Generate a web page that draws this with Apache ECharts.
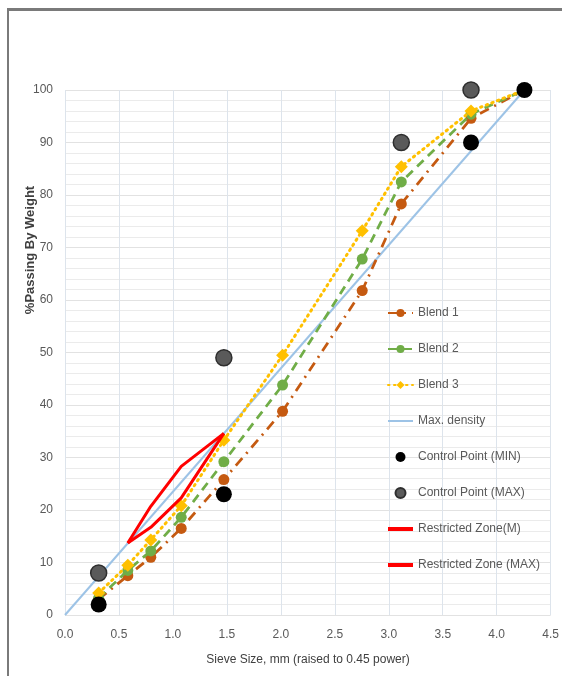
<!DOCTYPE html>
<html>
<head>
<meta charset="utf-8">
<style>
  html, body { margin: 0; padding: 0; background: #ffffff; }
  #chart { width: 562px; height: 676px; }
</style>
<script src="https://cdn.jsdelivr.net/npm/echarts@6/dist/echarts.min.js"></script>
</head>
<body>
<div id="chart"></div>
<script>
// Sieve sizes (mm) raised to the 0.45 power
const sieveX = [0.312, 0.582, 0.795, 1.077, 1.472, 2.016, 2.754, 3.116, 3.762, 4.257];

// Percent passing for each trial blend
const blend1 = [3.0, 7.5, 11.0, 16.5, 25.8, 38.8, 61.8, 78.3, 94.6, 100];
const blend2 = [3.2, 8.5, 12.2, 18.6, 29.2, 43.8, 67.8, 82.5, 95.4, 100];
const blend3 = [4.2, 9.5, 14.3, 20.8, 33.3, 49.5, 73.2, 85.4, 96.0, 100];

// Maximum density line
const maxDensityX = [0, 4.257];
const maxDensityY = [0, 100];

// Control points
const ctrlMinX = [0.312, 1.472, 3.762, 4.257];
const ctrlMinY = [2, 23, 90, 100];
const ctrlMaxX = [0.312, 1.472, 3.116, 3.762];
const ctrlMaxY = [8, 49, 90, 100];

// Restricted zone boundaries
const zoneX = [0.582, 0.795, 1.077, 1.472];
const zoneLowY = [13.7, 16.7, 22.3, 34.6];
const zoneHighY = [13.7, 20.7, 28.3, 34.6];

// Axis ticks
const xTicks = { min: 0, max: 4.5, step: 0.5 };
const yTicks = { min: 0, max: 100, step: 10 };

const pairs = (xs, ys) => xs.map((x, i) => [x, ys[i]]);

const FONT = "'Liberation Sans', Arial, sans-serif";
const TEXT = '#595959';

// legend glyphs: plain bars for the line-only series
const BAR_THIN = 'path://M0,0h25v2h-25z';
const BAR_THICK = 'path://M0,0h25v4h-25z';

const chart = echarts.init(document.getElementById('chart'), null, { renderer: 'canvas' });

chart.setOption({
  animation: false,
  backgroundColor: '#ffffff',
  textStyle: { fontFamily: FONT },
  grid: { left: 65, right: 10, top: 90, bottom: 61, containLabel: false },
  xAxis: {
    type: 'value',
    min: xTicks.min, max: xTicks.max, interval: xTicks.step,
    axisLine: { show: false },
    axisTick: { show: false },
    axisLabel: { color: TEXT, fontSize: 12, margin: 14, formatter: v => v.toFixed(1) },
    splitLine: { show: true, lineStyle: { color: '#dde4ec', width: 1 } }
  },
  yAxis: {
    type: 'value',
    min: yTicks.min, max: yTicks.max, interval: yTicks.step,
    axisLine: { show: false },
    axisTick: { show: false },
    axisLabel: { color: TEXT, fontSize: 12, margin: 12 },
    splitLine: { show: true, lineStyle: { color: '#e2e2e2', width: 1 } },
    minorTick: { show: false, splitNumber: 5 },
    minorSplitLine: { show: true, lineStyle: { color: '#ebebeb', width: 1 } }
  },
  legend: {
    orient: 'vertical',
    left: 382, top: 302,
    itemWidth: 25, itemHeight: 10, itemGap: 24,
    symbolKeepAspect: true,
    textStyle: { color: TEXT, fontSize: 12, fontFamily: FONT },
    data: [
      'Blend 1', 'Blend 2', 'Blend 3',
      { name: 'Max. density', icon: BAR_THIN },
      { name: 'Control Point (MIN)', icon: 'circle' },
      { name: 'Control Point (MAX)', icon: 'circle' },
      { name: 'Restricted Zone(M)', icon: BAR_THICK },
      { name: 'Restricted Zone (MAX)', icon: BAR_THICK }
    ]
  },
  graphic: [
    // frame edges
    { type: 'rect', shape: { x: 7, y: 8, width: 555, height: 3 }, style: { fill: '#7a7a7a' }, z: 100 },
    { type: 'rect', shape: { x: 7, y: 8, width: 2, height: 668 }, style: { fill: '#7a7a7a' }, z: 100 },
    {
      type: 'text', x: 30, y: 250, rotation: Math.PI / 2,
      style: {
        text: '%Passing By Weight', fill: '#3f3f3f',
        font: "bold 13px 'Liberation Sans', Arial, sans-serif",
        textAlign: 'center', textVerticalAlign: 'middle'
      }
    },
    {
      type: 'text', x: 308, y: 660,
      style: {
        text: 'Sieve Size, mm (raised to 0.45 power)', fill: '#404040',
        font: "12px 'Liberation Sans', Arial, sans-serif",
        textAlign: 'center', textVerticalAlign: 'middle'
      }
    }
  ],
  series: [
    {
      name: 'Blend 1', type: 'line', data: pairs(sieveX, blend1),
      symbol: 'circle', symbolSize: 11,
      itemStyle: { color: '#c55a11' },
      lineStyle: { color: '#c55a11', width: 2.75, type: [10, 6, 2, 6] },
      z: 3
    },
    {
      name: 'Blend 2', type: 'line', data: pairs(sieveX, blend2),
      symbol: 'circle', symbolSize: 11,
      itemStyle: { color: '#70ad47' },
      lineStyle: { color: '#70ad47', width: 2.75, type: [9, 6] },
      z: 4
    },
    {
      name: 'Blend 3', type: 'line', data: pairs(sieveX, blend3),
      symbol: 'diamond', symbolSize: 13,
      itemStyle: { color: '#ffc000' },
      lineStyle: { color: '#ffc000', width: 3, type: [1.5, 4.5], cap: 'round' },
      z: 5
    },
    {
      name: 'Max. density', type: 'line', data: pairs(maxDensityX, maxDensityY),
      symbol: 'none',
      itemStyle: { color: '#9dc3e6' },
      lineStyle: { color: '#9dc3e6', width: 2 },
      z: 2
    },
    {
      name: 'Control Point (MIN)', type: 'scatter', data: pairs(ctrlMinX, ctrlMinY),
      symbol: 'circle', symbolSize: 16,
      itemStyle: { color: '#000000', opacity: 1 },
      z: 6
    },
    {
      name: 'Control Point (MAX)', type: 'scatter', data: pairs(ctrlMaxX, ctrlMaxY),
      symbol: 'circle', symbolSize: 16,
      itemStyle: { color: '#5a5a5a', borderColor: '#2e2e2e', borderWidth: 1.5, opacity: 1 },
      z: 6
    },
    {
      name: 'Restricted Zone(M)', type: 'line', data: pairs(zoneX, zoneLowY),
      symbol: 'none',
      itemStyle: { color: '#ff0000' },
      lineStyle: { color: '#ff0000', width: 3 },
      z: 7
    },
    {
      name: 'Restricted Zone (MAX)', type: 'line', data: pairs(zoneX, zoneHighY),
      symbol: 'none',
      itemStyle: { color: '#ff0000' },
      lineStyle: { color: '#ff0000', width: 3 },
      z: 7
    }
  ]
});
</script>
</body>
</html>
